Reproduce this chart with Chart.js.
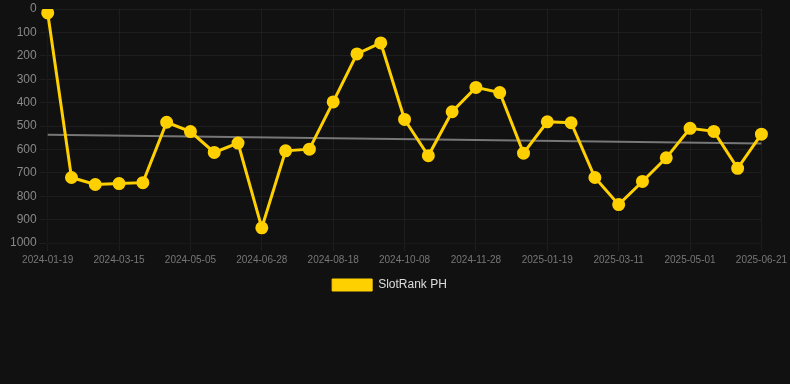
<!DOCTYPE html>
<html>
<head>
<meta charset="utf-8">
<script src="https://cdn.jsdelivr.net/npm/chart.js@4"></script>
<style>
  html, body { margin: 0; padding: 0; background: #111111; }
  #wrap { width: 790px; height: 301px; position: relative; }
</style>
</head>
<body>
<div id="wrap"><canvas id="rankChart"></canvas></div>
<script>
    // dates of each rank sample
    const dates = [
        '2024-01-19', '2024-02-06', '2024-02-25', '2024-03-15', '2024-04-01', '2024-04-18',
        '2024-05-05', '2024-05-23', '2024-06-10', '2024-06-28', '2024-07-15', '2024-08-01',
        '2024-08-18', '2024-09-04', '2024-09-21', '2024-10-08', '2024-10-25', '2024-11-11',
        '2024-11-28', '2024-12-15', '2025-01-01', '2025-01-19', '2025-02-05', '2025-02-22',
        '2025-03-11', '2025-03-28', '2025-04-14', '2025-05-01', '2025-05-18', '2025-06-04',
        '2025-06-21'
    ];

    // SlotRank PH position (lower = better)
    const rankPH = [
        17, 720, 750, 746, 742, 484,
        524, 613, 573, 935, 606, 599,
        397, 192, 145, 472, 627, 439,
        335, 357, 616, 482, 486, 720,
        836, 737, 636, 510, 523, 681,
        535
    ];

    // trend line, only start and end
    const trendStart = 537;
    const trendEnd = 575;
    const trend = dates.map((d, i) => i === 0 ? trendStart : (i === dates.length - 1 ? trendEnd : null));

    const yTicks = [0, 100, 200, 300, 400, 500, 600, 700, 800, 900, 1000];

    const ctx = document.getElementById('rankChart').getContext('2d');

    new Chart(ctx, {
        type: 'line',
        data: {
            labels: dates,
            datasets: [
                {
                    label: 'SlotRank PH',
                    data: rankPH,
                    borderColor: '#FFD000',
                    backgroundColor: '#FFD000',
                    borderWidth: 3,
                    pointRadius: 5,
                    pointHoverRadius: 6,
                    tension: 0,
                    order: 1
                },
                {
                    label: 'trend',
                    data: trend,
                    borderColor: '#777777',
                    borderWidth: 2,
                    pointRadius: 0,
                    spanGaps: true,
                    order: 2
                }
            ]
        },
        options: {
            responsive: true,
            maintainAspectRatio: false,
            animation: false,
            layout: { padding: { left: 7, right: 18 } },
            scales: {
                x: {
                    grid: { color: 'rgba(255,255,255,0.05)' },
                    ticks: {
                        color: '#777',
                        font: { size: 10, family: 'Liberation Sans, Arial, sans-serif' },
                        maxRotation: 0,
                        autoSkip: true,
                        maxTicksLimit: 11
                    }
                },
                y: {
                    reverse: true,
                    min: 0,
                    max: 1000,
                    afterBuildTicks(axis) {
                        axis.ticks = yTicks.map(v => ({ value: v }));
                    },
                    grid: { color: 'rgba(255,255,255,0.05)' },
                    ticks: {
                        color: '#888',
                        font: { size: 12, family: 'Liberation Sans, Arial, sans-serif', lineHeight: 0.6 },
                        callback: v => String(v)
                    }
                }
            },
            plugins: {
                legend: {
                    position: 'bottom',
                    labels: {
                        color: '#ddd',
                        font: { size: 12, family: 'Liberation Sans, Arial, sans-serif' },
                        filter: item => item.text !== 'trend',
                        generateLabels(chart) {
                            const items = Chart.defaults.plugins.legend.labels.generateLabels(chart);
                            items.forEach(it => { it.lineWidth = 1; });
                            return items;
                        }
                    }
                },
                tooltip: { enabled: false }
            }
        }
    });
</script>
</body>
</html>
